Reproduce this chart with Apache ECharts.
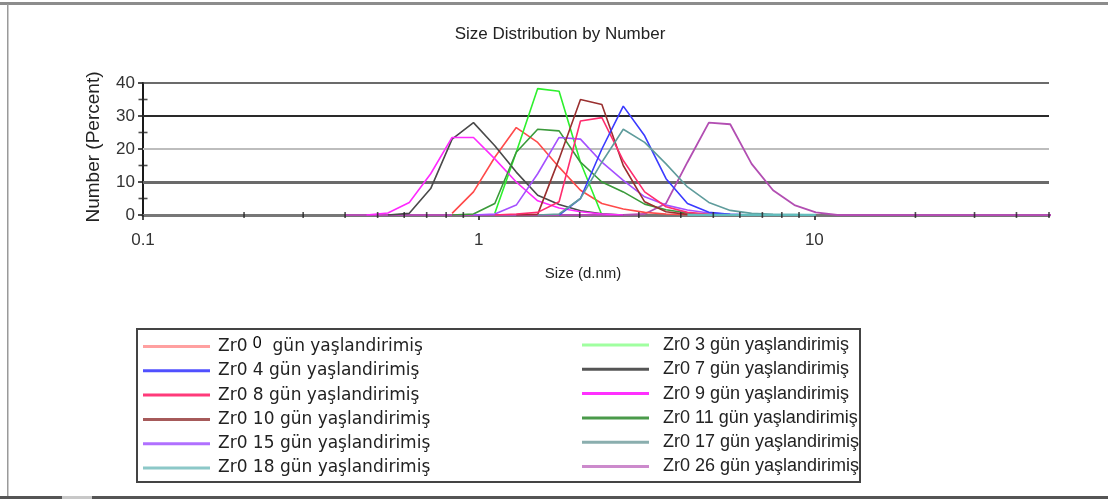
<!DOCTYPE html>
<html>
<head>
<meta charset="utf-8">
<script src="https://cdn.jsdelivr.net/npm/echarts@6/dist/echarts.min.js"></script>
<style>
html, body { margin: 0; padding: 0; background: #fff; }
#chart { width: 1108px; height: 503px; }
</style>
</head>
<body>
<div id="chart"></div>
<script>
// Size classes (d.nm) of the number distribution
const sizeBins = [0.4, 0.4632, 0.5365, 0.6213, 0.7195, 0.8332, 0.9649, 1.117, 1.294, 1.499,
  1.736, 2.01, 2.328, 2.696, 3.122, 3.615, 4.187, 4.849, 5.615, 6.503,
  7.531, 8.721, 10.1, 11.7, 13.54, 15.69, 18.17, 21.04, 24.36, 28.21,
  32.67, 37.84, 43.82, 50.75];

const n = null;
// Number (%) per size class, one array per ageing time
const day0  = [n,n,n,n,n,0.5,7,17.5,26.5,22,14.5,7.5,3.5,1.8,0.8,0.3,0.1,0,n,n,n,n,n,n,n,n,n,n,n,n,n,n,n,n];
const day3  = [n,n,n,n,n,n,n,0.5,19,38.3,37.5,16,0,n,n,n,n,n,n,n,n,n,n,n,n,n,n,n,n,n,n,n,n,n];
const day4  = [n,n,n,n,n,n,n,n,n,n,0,5,20,33,24,11,3.5,0.8,0.2,0,n,n,n,n,n,n,n,n,n,n,n,n,n,n];
const day7  = [n,n,0,0.5,8,23,28,21,13,6,3.2,1.3,0.4,0,n,n,n,n,n,n,n,n,n,n,n,n,n,n,n,n,n,n,n,n];
const day8  = [n,n,n,n,n,n,n,0,0.3,0.8,4,28.5,29.5,16.5,7,2.5,0.8,0.2,0,n,n,n,n,n,n,n,n,n,n,n,n,n,n,n];
const day9  = [n,0,0.6,3.8,12.5,23.5,23.5,17,10,4.3,2.1,1,0.3,0,n,n,n,n,n,n,n,n,n,n,n,n,n,n,n,n,n,n,n,n];
const day10 = [n,n,n,n,n,n,n,n,0,0.2,17,35,33.5,15,4,1,0.2,0,n,n,n,n,n,n,n,n,n,n,n,n,n,n,n,n];
const day11 = [n,n,n,n,n,0,0.3,3.5,19,26,25.5,16,10,7,3.3,1.6,0.6,0.1,0,n,n,n,n,n,n,n,n,n,n,n,n,n,n,n];
const day15 = [n,n,n,n,n,n,0,0.3,3,12.5,23.5,23,16,10.5,5.5,3,1.5,0.6,0.2,0,n,n,n,n,n,n,n,n,n,n,n,n,n,n];
const day17 = [n,n,n,n,n,n,n,n,n,0,0.3,5,16,26,22,15.5,8.5,3.8,1.4,0.5,0.2,0.1,0,n,n,n,n,n,n,n,n,n,n,n];
const day18 = [n,n,n,n,n,n,n,n,n,n,n,n,n,n,n,n,0,0,0,0,0,0,0,n,n,n,n,n,n,n,n,n,n,n];
const day26 = [0,0,0,0,0,0,0,0,0,0,0,0,0,0,0.3,3.5,16,28,27.5,15.5,7.5,3,0.8,0,0,0,0,0,0,0,0,0,0,0];

// Axis ticks and labels
const sizeTicks = [0.1, 1, 10];
const sizeTickLabels = ['0.1', '1', '10'];
const sizeMinorTicks = [0.2,0.3,0.4,0.5,0.6,0.7,0.8,0.9,2,3,4,5,6,7,8,9,20,30,40,50];
const percentMinorTicks = [5, 15, 25, 35];

const names = {
  d0: 'Zr0 0 gün yaşlandirimiş',   d3: 'Zr0 3 gün yaşlandirimiş',
  d4: 'Zr0 4 gün yaşlandirimiş',   d7: 'Zr0 7 gün yaşlandirimiş',
  d8: 'Zr0 8 gün yaşlandirimiş',   d9: 'Zr0 9 gün yaşlandirimiş',
  d10: 'Zr0 10 gün yaşlandirimiş', d11: 'Zr0 11 gün yaşlandirimiş',
  d15: 'Zr0 15 gün yaşlandirimiş', d17: 'Zr0 17 gün yaşlandirimiş',
  d18: 'Zr0 18 gün yaşlandirimiş', d26: 'Zr0 26 gün yaşlandirimiş'
};

function pairs(values) {
  const out = [];
  values.forEach((v, i) => { if (v !== null) out.push([sizeBins[i], v]); });
  return out;
}

function curve(name, values, color, width) {
  return {
    name: name, type: 'line', data: pairs(values),
    symbol: 'none', smooth: false, z: 3,
    lineStyle: { color: color, width: width || 1.6 },
    itemStyle: { color: color },
    emphasis: { disabled: true }
  };
}

const axisFont = 'Liberation Sans';

const series = [
  Object.assign(curve(names.d26, day26, '#b24eb2', 1.8), {
    z: 2,
    markLine: {
      silent: true, symbol: 'none', z: 1, label: { show: false },
      data: [
        { yAxis: 10, lineStyle: { color: '#6a6a6a', width: 3.2, type: 'solid' } },
        { yAxis: 20, lineStyle: { color: '#bdbdbd', width: 2.2, type: 'solid' } },
        { yAxis: 30, lineStyle: { color: '#2a2a2a', width: 2, type: 'solid' } },
        { yAxis: 40, lineStyle: { color: '#3a3a3a', width: 1.6, type: 'solid' } },
        [{ coord: [1, 40] }, { coord: [1, -1.2], lineStyle: { color: '#2a2a2a', width: 2, type: 'solid' } }],
        [{ coord: [10, 40] }, { coord: [10, -1.5], lineStyle: { color: '#7a7a7a', width: 3.2, type: 'solid' } }]
      ]
    }
  }),
  curve(names.d0, day0, '#ff4a4a'),
  curve(names.d3, day3, '#2ef02e'),
  curve(names.d7, day7, '#4a4a4a'),
  curve(names.d9, day9, '#ff2aff'),
  curve(names.d11, day11, '#3a9a3a'),
  curve(names.d15, day15, '#a550ff'),
  curve(names.d10, day10, '#9a2f2f'),
  curve(names.d8, day8, '#ff2d6e'),
  curve(names.d4, day4, '#3a3aff'),
  curve(names.d17, day17, '#5f9c9c'),
  curve(names.d18, day18, '#62bcbc', 2.4),
  {
    name: 'size ticks', type: 'scatter', silent: true, z: 4,
    data: sizeMinorTicks.map(v => [v, 0]),
    symbol: 'rect', symbolSize: [1.6, 6],
    itemStyle: { color: '#222' }
  },
  {
    name: 'percent ticks', type: 'scatter', silent: true, z: 4,
    data: percentMinorTicks.map(v => [0.1, v]),
    symbol: 'rect', symbolSize: [9, 1.6],
    itemStyle: { color: '#222' }
  }
];

function legendItem(name, color) {
  return { name: name, icon: 'rect', itemStyle: { color: color } };
}

const leftText = { fontFamily: 'DejaVu Sans', fontSize: 17, color: '#222', lineHeight: 18, padding: [0, 0, 0, 3] };
const rightText = { fontFamily: 'Liberation Sans', fontSize: 18, color: '#222', lineHeight: 18, padding: [0, 0, 0, 9] };

const option = {
  animation: false,
  backgroundColor: '#fff',
  grid: { left: 143, top: 83, width: 906, height: 132, containLabel: false },
  xAxis: {
    type: 'log', logBase: 10, min: 0.1, max: 50,
    axisLine: { show: true, onZero: false, lineStyle: { color: '#777', width: 3 } },
    axisTick: { show: true, length: 5, lineStyle: { color: '#222', width: 1.6 } },
    minorTick: { show: false },
    splitLine: { show: false },
    axisLabel: {
      show: true, margin: 17, color: '#333', fontSize: 17, fontFamily: axisFont,
      showMaxLabel: false,
      formatter: function (v) {
        const i = sizeTicks.findIndex(t => Math.abs(Math.log10(v) - Math.log10(t)) < 1e-6);
        return i >= 0 ? sizeTickLabels[i] : '';
      }
    }
  },
  yAxis: {
    type: 'value', min: 0, max: 40, interval: 10,
    axisLine: { show: true, lineStyle: { color: '#1a1a1a', width: 2 } },
    axisTick: { show: true, length: 5, lineStyle: { color: '#222', width: 1.6 } },
    splitLine: { show: false },
    axisLabel: { margin: 8, color: '#333', fontSize: 17, fontFamily: axisFont }
  },
  legend: [
    {
      orient: 'vertical', left: 138, top: 331, itemWidth: 67, itemHeight: 3, itemGap: 6.3,
      selectedMode: false,
      textStyle: Object.assign({}, leftText, {
        rich: {
          a: { fontFamily: 'DejaVu Sans', fontSize: 17, color: '#222' },
          z: { fontFamily: 'Liberation Sans', fontSize: 16, color: '#000', padding: [0, 0, 5, 0] }
        }
      }),
      formatter: function (name) {
        return name === names.d0 ? '{a|Zr0 }{z|0}{a|  gün yaşlandirimiş}' : name;
      },
      data: [
        legendItem(names.d0, '#ffa0a0'),
        legendItem(names.d4, '#5050ff'),
        legendItem(names.d8, '#ff3a7a'),
        legendItem(names.d10, '#a65a5a'),
        legendItem(names.d15, '#b070ff'),
        legendItem(names.d18, '#8cc8c8')
      ]
    },
    {
      orient: 'vertical', left: 577, top: 331, itemWidth: 67, itemHeight: 3, itemGap: 6.3,
      selectedMode: false,
      textStyle: rightText,
      data: [
        legendItem(names.d3, '#a0ffa0'),
        legendItem(names.d7, '#555555'),
        legendItem(names.d9, '#ff30ff'),
        legendItem(names.d11, '#4a9a4a'),
        legendItem(names.d17, '#8aaeae'),
        legendItem(names.d26, '#cc8acc')
      ]
    }
  ],
  graphic: [
    // page frame
    { type: 'rect', shape: { x: 0, y: 2, width: 1108, height: 3 }, style: { fill: '#8c8c8c' }, silent: true },
    { type: 'rect', shape: { x: 7, y: 4, width: 1.5, height: 493 }, style: { fill: '#9a9a9a' }, silent: true },
    { type: 'rect', shape: { x: 0, y: 496, width: 1108, height: 3 }, style: { fill: '#555' }, silent: true },
    { type: 'rect', shape: { x: 62, y: 496, width: 30, height: 3 }, style: { fill: '#c8c8c8' }, silent: true },
    // legend box
    { type: 'rect', shape: { x: 137, y: 329, width: 723, height: 153 },
      style: { fill: 'none', stroke: '#444', lineWidth: 2 }, silent: true },
    // titles
    { type: 'text', x: 560, y: 34, silent: true,
      style: { text: 'Size Distribution by Number', font: '17px "Liberation Sans"', fill: '#222', align: 'center', verticalAlign: 'middle' } },
    { type: 'text', x: 94, y: 147, rotation: Math.PI / 2, silent: true,
      style: { text: 'Number (Percent)', font: '19px "Liberation Sans"', fill: '#222', align: 'center', verticalAlign: 'middle' } },
    { type: 'text', x: 583, y: 274, silent: true,
      style: { text: 'Size (d.nm)', font: '15px "Liberation Sans"', fill: '#222', align: 'center', verticalAlign: 'middle' } }
  ],
  series: series
};

const chart = echarts.init(document.getElementById('chart'), null, { renderer: 'canvas' });
chart.setOption(option);
</script>
</body>
</html>
